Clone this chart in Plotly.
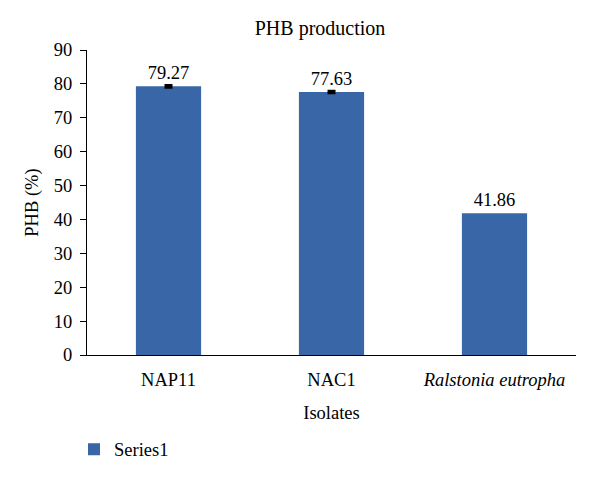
import plotly.graph_objects as go

categories = ["NAP11", "NAC1", "<i>Ralstonia eutropha</i>"]
values = [79.27, 77.63, 41.86]
errors = [0.35, 0.3, 0.0]
labels = ["79.27", "77.63", "41.86"]
y_ticks = [0, 10, 20, 30, 40, 50, 60, 70, 80, 90]

FONT = "Liberation Serif"
BAR = "#3866A6"
FS = 18.5

has_err = [i for i, e in enumerate(errors) if e > 0]
no_err = [i for i, e in enumerate(errors) if e <= 0]

fig = go.Figure()
fig.add_trace(go.Bar(
    x=[categories[i] for i in has_err], y=[values[i] for i in has_err], name="Series1",
    legendgroup="s1",
    marker=dict(color=BAR, line=dict(width=0)),
    width=0.4,
    error_y=dict(type="data", array=[errors[i] for i in has_err], visible=True,
                 color="black", thickness=2.5, width=4),
    text=[labels[i] for i in has_err], textposition="outside", cliponaxis=False,
    textfont=dict(family=FONT, size=FS, color="black"),
))
fig.add_trace(go.Bar(
    x=[categories[i] for i in no_err], y=[values[i] for i in no_err], name="Series1",
    legendgroup="s1", showlegend=False,
    marker=dict(color=BAR, line=dict(width=0)),
    width=0.4,
    text=[labels[i] for i in no_err], textposition="outside", cliponaxis=False,
    textfont=dict(family=FONT, size=FS, color="black"),
))

fig.update_layout(
    width=600, height=480,
    margin=dict(l=79, r=32, t=42, b=133),
    paper_bgcolor="white", plot_bgcolor="white",
    font=dict(family=FONT, size=FS, color="black"),
    barmode="overlay",
    title=dict(text="PHB production", xref="container", x=0.52, xanchor="center",
               yref="container", y=0.958, yanchor="middle",
               font=dict(family=FONT, size=20, color="black")),
    showlegend=True,
    legend=dict(orientation="h", xref="container", yref="container", x=0.11, y=0.08,
                xanchor="left", yanchor="middle", font=dict(family=FONT, size=FS),
                itemwidth=30),
    xaxis=dict(categoryorder="array", categoryarray=categories),
)
fig.update_xaxes(
    title=dict(text="Isolates", font=dict(family=FONT, size=FS), standoff=16),
    showline=True, linecolor="black", linewidth=1.2, showgrid=False,
    ticks="outside", ticklen=8, tickcolor="rgba(0,0,0,0)",
    tickfont=dict(family=FONT, size=FS),
)
fig.update_yaxes(
    title=dict(text="PHB (%)", font=dict(family=FONT, size=FS), standoff=10),
    range=[0, 90], tickvals=y_ticks, showline=True, linecolor="black", linewidth=1.2,
    ticks="outside", ticklen=6, tickcolor="black", showgrid=False, zeroline=False,
    ticklabelstandoff=4,
    tickfont=dict(family=FONT, size=FS),
)

fig.write_html("out.html")
